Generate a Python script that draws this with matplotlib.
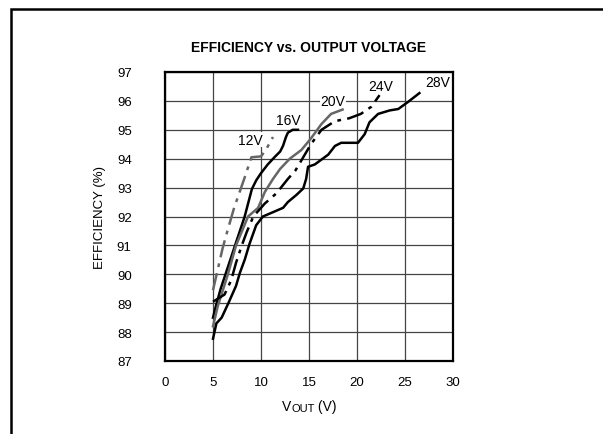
import matplotlib
matplotlib.use("Agg")
import matplotlib.pyplot as plt
from matplotlib.patches import Rectangle

plt.rcParams['font.family'] = ['Liberation Sans', 'DejaVu Sans']

# curves (VOUT in V, efficiency in %)
v_12 = [5.0, 6.0, 6.5, 7.2, 8.3, 8.5, 9.0, 10.0, 10.5, 11.25]
e_12 = [89.45, 90.9, 91.5, 92.3, 93.35, 93.55, 94.05, 94.08, 94.3, 94.75]

v_16 = [5.0, 5.3, 5.8, 6.3, 7.3, 8.3, 9.05, 9.5, 10.0, 10.7, 11.4, 12.0, 12.3, 12.6, 12.8, 13.3, 13.85]
e_16 = [88.5, 88.9, 89.5, 90.0, 91.0, 92.0, 92.95, 93.25, 93.5, 93.8, 94.05, 94.25, 94.45, 94.75, 94.9, 95.0, 95.0]

v_20 = [5.0, 5.5, 6.55, 7.4, 8.65, 9.7, 10.4, 11.25, 12.0, 13.0, 14.2, 15.2, 16.3, 17.3, 18.5]
e_20 = [88.2, 88.9, 90.0, 91.0, 92.0, 92.3, 92.85, 93.3, 93.65, 94.0, 94.3, 94.7, 95.2, 95.55, 95.7]

v_24 = [5.0, 6.2, 6.9, 7.4, 8.0, 8.5, 9.2, 10.4, 11.6, 12.8, 13.6, 14.4, 15.2, 16.3, 17.7,
        19.2, 20.4, 21.5, 22.35]
e_24 = [89.05, 89.3, 89.8, 90.4, 91.0, 91.45, 92.0, 92.45, 92.8, 93.3, 93.6, 94.05, 94.5, 95.0, 95.3,
        95.4, 95.55, 95.8, 96.2]

v_28 = [5.0, 5.35, 5.9, 6.6, 7.4, 7.8, 8.3, 8.8, 9.5, 10.2, 11.25, 12.3, 12.8, 13.7, 14.4, 14.7,
        14.9, 15.6, 17.0, 17.7, 18.35, 20.1, 20.8, 21.3, 22.2, 23.4, 24.3, 25.3, 26.5]
e_28 = [87.77, 88.3, 88.5, 89.0, 89.6, 90.05, 90.5, 91.05, 91.7, 92.0, 92.15, 92.3, 92.5, 92.75,
        92.97, 93.3, 93.72, 93.8, 94.14, 94.44, 94.55, 94.55, 94.85, 95.26, 95.55, 95.67, 95.72,
        95.96, 96.27]

labels = ['12V', '16V', '20V', '24V', '28V']
label_x = [8.9, 12.8, 17.5, 22.5, 28.4]
label_y = [94.65, 95.35, 96.0, 96.5, 96.65]

x_ticks = [0, 5, 10, 15, 20, 25, 30]
y_ticks = [87, 88, 89, 90, 91, 92, 93, 94, 95, 96, 97]

fig = plt.figure(figsize=(6.03, 4.35), dpi=100)
ax = fig.add_axes([165 / 603, 1 - 362 / 435, 288 / 603, 289 / 435])

# frame around the whole figure (runs off the right and bottom edges)
fig.add_artist(Rectangle((11 / 603, -0.1), 1.2, 1 - 9.5 / 435 + 0.1, transform=fig.transFigure,
                         fill=False, lw=1.8, ec='black'))

dashdot = (0, (7, 2.5, 1.5, 2.5))
ax.plot(v_12, e_12, color='#666666', lw=1.8, ls=dashdot)
ax.plot(v_16, e_16, color='black', lw=1.8)
ax.plot(v_20, e_20, color='#666666', lw=1.8)
ax.plot(v_24, e_24, color='black', lw=1.8, ls=dashdot)
ax.plot(v_28, e_28, color='black', lw=1.8)

for t, x, y in zip(labels, label_x, label_y):
    ax.text(x, y, t, ha='center', va='center', fontsize=10,
            bbox=dict(fc='white', ec='none', pad=0.3))

ax.set_xlim(0, 30)
ax.set_ylim(87, 97)
ax.set_xticks(x_ticks)
ax.set_yticks(y_ticks)
ax.grid(True, color='#444444', lw=0.9)
ax.tick_params(length=0, labelsize=9.5)
ax.tick_params(axis='y', pad=24)
ax.tick_params(axis='x', pad=11)
for s in ax.spines.values():
    s.set_linewidth(1.6)

ax.set_title('EFFICIENCY vs. OUTPUT VOLTAGE', fontsize=10, fontweight='bold', pad=15)
ax.set_ylabel('EFFICIENCY (%)', fontsize=9.5, labelpad=8)

# x label "VOUT (V)" with OUT in smaller letters
t1 = fig.text(291 / 603, 1 - 411 / 435, 'V', fontsize=10, ha='right', va='baseline')
t2 = ax.annotate('OUT', xy=(1, 0), xycoords=t1, va='bottom', ha='left', fontsize=8)
ax.annotate(' (V)', xy=(1, 0), xycoords=t2, va='bottom', ha='left', fontsize=10)

fig.savefig('out.png', dpi=100)
